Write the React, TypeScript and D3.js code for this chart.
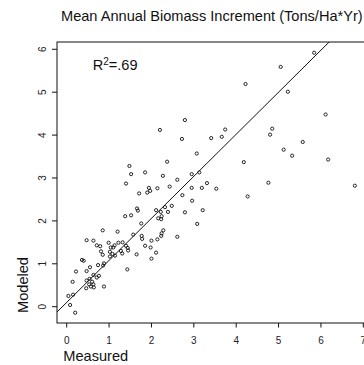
import React from "react";
import * as d3 from "d3";

const title = "Mean Annual Biomass Increment (Tons/Ha*Yr)";
const xLabel = "Measured";
const yLabel = "Modeled";
const xTicks = [0, 1, 2, 3, 4, 5, 6, 7];
const yTicks = [0, 1, 2, 3, 4, 5, 6];
const xLim = [-0.229, 7.08];
const yLim = [-0.38, 6.17];
const fitIntercept = 0.1;
const fitSlope = 0.98;

const measured = [
  5.84, 5.05, 4.22, 5.22, 6.11, 2.79, 2.2, 3.74, 4.85, 4.8, 2.72, 3.41, 3.66, 5.57, 5.12, 3.07, 5.32, 6.17, 4.76, 6.8,
  1.48, 1.52, 1.85, 1.4, 1.71, 1.94, 1.9, 1.97, 2.14, 1.66, 1.68, 2.11, 1.52, 1.38, 2.16, 1.76, 0.85, 1.2, 1.57, 1.77,
  2.37, 4.18, 2.27, 2.95, 3.13, 2.61, 3.31, 2.43, 2.95, 3.19, 3.53, 2.73, 4.27, 2.96, 2.22, 2.32, 2.48, 2.39, 2.79, 3.21,
  2.24, 2.23, 3.08, 2.28, 2.24, 2.23, 2.61, 2.14, 2.0, 1.98, 2.11, 2.0,
  0.47, 0.63, 0.99, 1.22, 1.32, 0.71, 0.79, 1.13, 1.1, 1.04, 1.4, 1.44, 1.85, 0.81, 1.28, 1.31, 1.45, 1.02, 1.08, 0.85,
  1.02, 1.14, 1.65, 1.78,
  0.36, 0.4, 0.88, 0.86, 0.74, 0.55, 0.47, 0.22, 1.43, 0.63, 0.76, 0.71, 0.47, 0.54, 0.6, 0.14, 0.53, 0.63, 0.46, 0.57,
  0.64, 0.88, 0.04, 0.15, 0.08, 0.2,
];
const modeled = [
  5.92, 5.59, 5.19, 5.01, 4.48, 4.35, 4.12, 4.13, 4.15, 4.01, 3.91, 3.93, 3.96, 3.84, 3.66, 3.57, 3.52, 3.43, 2.89, 2.82,
  3.28, 3.09, 3.13, 2.87, 2.64, 2.77, 2.66, 2.7, 2.76, 2.29, 2.24, 2.25, 2.13, 2.11, 2.06, 1.94, 1.78, 1.75, 1.68, 1.65,
  3.38, 3.37, 3.05, 3.09, 3.13, 2.96, 2.88, 2.8, 2.77, 2.77, 2.75, 2.6, 2.57, 2.47, 2.21, 2.32, 2.35, 2.21, 2.2, 2.25,
  2.11, 2.04, 1.93, 1.78, 1.71, 1.65, 1.63, 1.57, 1.54, 1.38, 1.26, 1.12,
  1.55, 1.54, 1.49, 1.49, 1.5, 1.43, 1.41, 1.43, 1.38, 1.38, 1.42, 1.37, 1.42, 1.29, 1.3, 1.24, 1.31, 1.28, 1.23, 1.21,
  1.17, 1.19, 1.22, 1.58,
  1.09, 1.07, 1.01, 0.96, 0.97, 0.92, 0.83, 0.82, 0.87, 0.74, 0.72, 0.68, 0.61, 0.65, 0.58, 0.58, 0.52, 0.52, 0.43, 0.47,
  0.45, 0.47, 0.25, 0.28, 0.04, -0.14,
];

const W = 364;
const H = 365;
const font = "'Liberation Sans', Arial, Helvetica, sans-serif";

export default function App() {
  const x = d3.scaleLinear().domain(xLim).range([57, 366.7]);
  const y = d3.scaleLinear().domain(yLim).range([323, 42]);
  const [x0, x1] = xLim;
  const line = d3
    .line<number>()
    .x((d) => x(d))
    .y((d) => y(fitIntercept + fitSlope * d));
  const plotLeft = x(xLim[0]);
  const plotRight = x(xLim[1]);
  const plotTop = y(yLim[1]);
  const plotBottom = y(yLim[0]);
  return (
    <svg
      width={W}
      height={H}
      style={{ position: "absolute", left: 0, top: 0, display: "block", background: "#fff" }}
      fontFamily={font}
    >
      <defs>
        <clipPath id="plotclip">
          <rect x={plotLeft} y={plotTop} width={plotRight - plotLeft} height={plotBottom - plotTop} />
        </clipPath>
      </defs>
      <rect width={W} height={H} fill="#fff" />
      <text x={(plotLeft + plotRight) / 2} y={20.5} textAnchor="middle" fontSize={14.6} fill="#111">
        {title}
      </text>
      {/* points */}
      <g>
        {measured.map((m, i) => (
          <circle key={i} cx={x(m)} cy={y(modeled[i])} r={1.6} fill="none" stroke="#111" strokeWidth={0.9} />
        ))}
      </g>
      {/* fit line */}
      <path d={line([x0, x1]) || ""} stroke="#111" strokeWidth={1} fill="none" clipPath="url(#plotclip)" />
      {/* box */}
      <rect
        x={plotLeft}
        y={plotTop}
        width={plotRight - plotLeft}
        height={plotBottom - plotTop}
        fill="none"
        stroke="#111"
        strokeWidth={1}
      />
      {/* x axis */}
      <g>
        {xTicks.map((t) => (
          <g key={t}>
            <line x1={x(t)} x2={x(t)} y1={plotBottom} y2={plotBottom + 4.5} stroke="#111" strokeWidth={1} />
            <text x={x(t)} y={343.5} textAnchor="middle" fontSize={10} fill="#222">
              {t}
            </text>
          </g>
        ))}
      </g>
      {/* y axis */}
      <g>
        {yTicks.map((t) => (
          <g key={t}>
            <line x1={plotLeft - 5} x2={plotLeft} y1={y(t)} y2={y(t)} stroke="#111" strokeWidth={1} />
            <text
              transform={`translate(45.5,${y(t)}) rotate(-90)`}
              textAnchor="middle"
              fontSize={10}
              fill="#222"
            >
              {t}
            </text>
          </g>
        ))}
      </g>
      <text x={63.3} y={360.5} fontSize={14.6} fill="#111">
        {xLabel}
      </text>
      <text transform="translate(28,313) rotate(-90)" fontSize={14.6} fill="#111">
        {yLabel}
      </text>
      <text x={92.7} y={70} fontSize={14.6} fill="#111">
        R<tspan fontSize={10} dy={-5.5}>2</tspan>
        <tspan dy={5.5}>=.69</tspan>
      </text>
    </svg>
  );
}
